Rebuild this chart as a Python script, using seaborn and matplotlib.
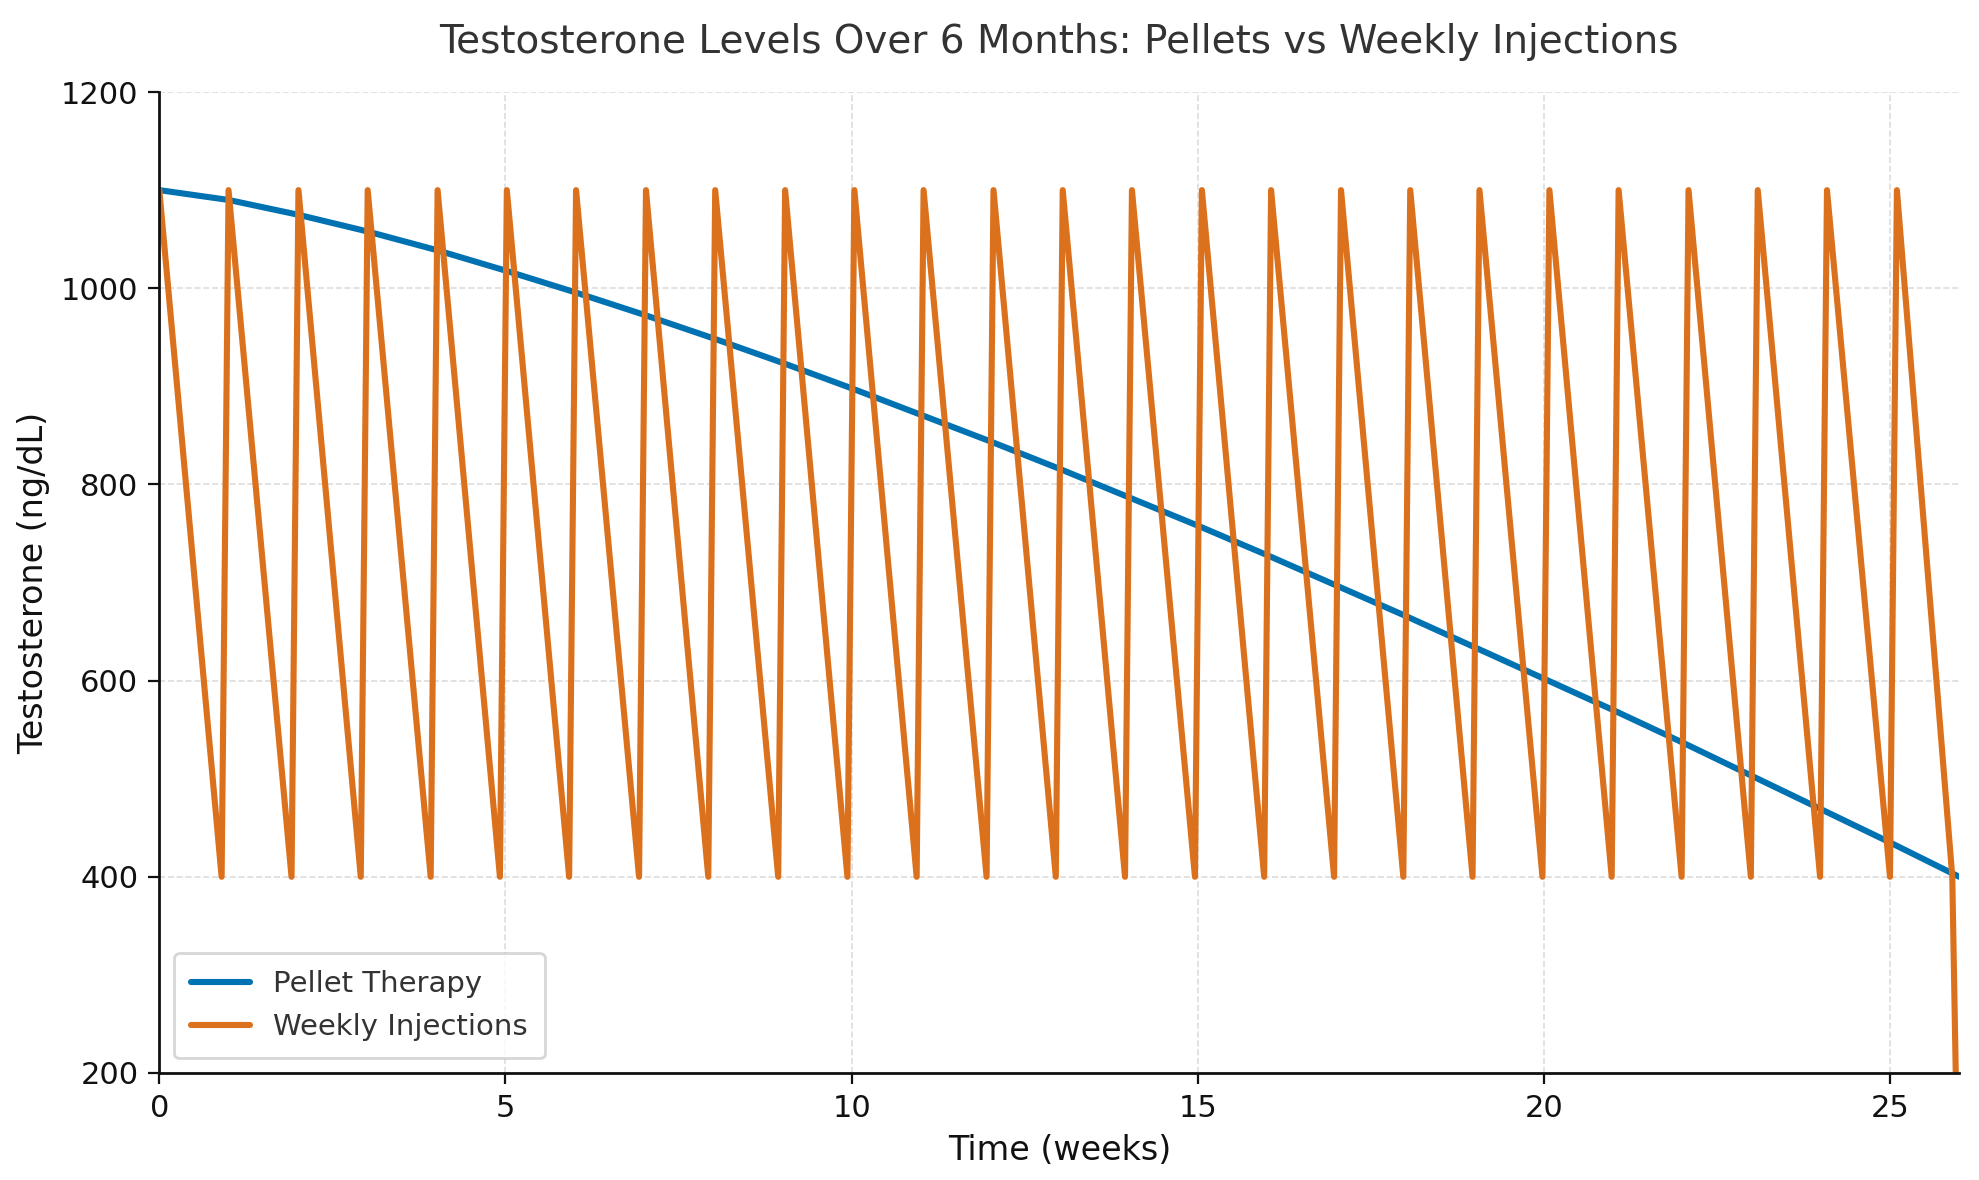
import numpy as np
import pandas as pd
import matplotlib
matplotlib.use("Agg")
import matplotlib.pyplot as plt
import seaborn as sns

pellet_weeks = list(range(27))
pellet_level = [1100, 1090, 1075, 1058, 1039, 1018, 996, 973, 949, 924, 898,
                871, 844, 816, 787, 758, 728, 697, 666, 634, 602, 570, 537,
                503, 469, 435, 400]

# injection sawtooth: peak / trough vertices
inj_weeks = [0.00, 0.90, 1.00, 1.91, 2.01, 2.91, 3.01, 3.92, 4.02, 4.92,
             5.02, 5.92, 6.02, 6.93, 7.03, 7.93, 8.03, 8.94, 9.04, 9.94,
             10.04, 10.94, 11.04, 11.95, 12.05, 12.95, 13.05, 13.95, 14.05, 14.96,
             15.06, 15.96, 16.06, 16.97, 17.07, 17.97, 18.07, 18.97, 19.07, 19.98,
             20.08, 20.98, 21.08, 21.99, 22.09, 22.99, 23.09, 23.99, 24.09, 25.00,
             25.10, 25.90, 26.00]
inj_level = [1100, 400] * 26 + [0]

blue = "#0072B2"
orange = "#DB711C"

sns.set_theme(style="white")
plt.rcParams['font.family'] = ['DejaVu Sans']

fig = plt.figure(figsize=(9.895, 5.9), dpi=200)
ax = fig.add_axes([0.0805, 0.0907, 0.9095, 0.8313])

sns.lineplot(x=pellet_weeks, y=pellet_level, ax=ax, color=blue, linewidth=2.2,
             label="Pellet Therapy")
sns.lineplot(x=inj_weeks, y=inj_level, ax=ax, color=orange, linewidth=2.2,
             label="Weekly Injections")

ax.set_xlim(0, 26)
ax.set_ylim(200, 1200)
ax.set_xticks([0, 5, 10, 15, 20, 25])
ax.set_yticks([200, 400, 600, 800, 1000, 1200])
ax.grid(True, linestyle="--", color="#dddddd", linewidth=0.6)
ax.tick_params(axis="both", labelsize=11, colors="#111111", length=4, width=0.8,
               bottom=True, left=True)

for side in ["top", "right"]:
    ax.spines[side].set_visible(False)
for side in ["left", "bottom"]:
    ax.spines[side].set_color("#111111")
    ax.spines[side].set_linewidth(1.0)

ax.set_title("Testosterone Levels Over 6 Months: Pellets vs Weekly Injections",
             fontsize=14, color="#333333", pad=14)
ax.set_xlabel("Time (weeks)", fontsize=12, color="#111111")
ax.set_ylabel("Testosterone (ng/dL)", fontsize=12, color="#111111")

leg = ax.legend(loc="lower left", fontsize=10.5, frameon=True, borderpad=0.6)
leg.get_frame().set_edgecolor("#cccccc")
for t in leg.get_texts():
    t.set_color("#333333")

fig.savefig("out.png", dpi=200)
